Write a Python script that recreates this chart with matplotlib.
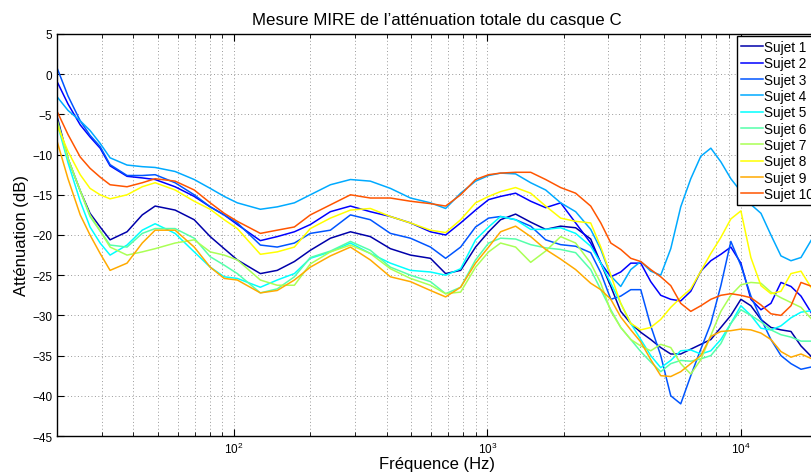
import numpy as np
from matplotlib import pyplot as plt
from matplotlib.ticker import LogLocator

# Frequency grid (Hz) and attenuation per subject (dB)
freqs = [20, 22.1, 24.7, 27, 29.6, 32.4, 37.8, 43.4, 48.8, 58.5, 69.6, 80.5, 91.4, 103,
         127, 148, 173, 200, 240, 288, 345, 414, 497, 596, 684, 784, 898, 1011, 1127,
         1292, 1482, 1698, 1946, 2230, 2557, 2803, 3070, 3360, 3681, 4030, 4413, 4833,
         5294, 5796, 6350, 6957, 7620, 8347, 9141, 10014, 10966, 12016, 13157, 14414,
         15786, 17292, 19100]

sujet1 = [-5.2, -10.5, -14.5, -17.3, -19.0, -20.6, -19.6, -17.5, -16.4, -16.9, -18.1, -20.2,
          -21.7, -23.1, -24.8, -24.4, -23.3, -21.9, -20.4, -19.6, -20.2, -21.7, -22.5, -22.9,
          -24.8, -24.4, -21.5, -19.6, -18.1, -17.4, -18.4, -19.3, -18.9, -19.1, -20.5, -23.5,
          -26.4, -29.5, -31.0, -32.1, -33.0, -34.0, -34.8, -34.8, -34.2, -33.6, -33.0, -31.5,
          -30.0, -28.0, -28.8, -30.5, -31.5, -31.8, -32.0, -33.8, -35.2]
sujet2 = [-0.9, -3.7, -6.3, -7.8, -9.2, -11.4, -12.7, -12.9, -13.1, -14.0, -15.2, -16.5,
          -17.5, -18.7, -20.7, -20.2, -19.6, -18.7, -17.1, -16.4, -17.1, -17.7, -18.5, -19.6,
          -20.0, -18.5, -16.9, -15.6, -15.2, -14.8, -15.8, -16.6, -16.0, -18.5, -21.0, -23.5,
          -25.2, -24.6, -23.5, -23.5, -25.8, -27.5, -28.0, -28.2, -27.0, -24.5, -23.2, -22.4,
          -21.5, -23.5, -28.0, -29.3, -28.5, -25.9, -26.4, -27.6, -29.8]
sujet3 = [0.8, -2.7, -5.8, -7.6, -9.0, -11.25, -12.6, -12.6, -12.5, -13.5, -15.0, -16.5,
          -17.5, -18.5, -21.25, -21.5, -21.0, -19.8, -19.4, -17.5, -18.1, -19.8, -20.4, -21.5,
          -22.9, -21.5, -19.0, -17.9, -17.7, -18.1, -18.9, -20.6, -21.2, -21.4, -22.2, -24.7,
          -28.0, -27.6, -26.8, -26.8, -31.3, -35.0, -40.0, -41.0, -37.5, -34.2, -31.0, -26.3,
          -20.8, -23.8, -27.6, -30.4, -33.0, -35.0, -36.0, -36.7, -36.4]
sujet4 = [-2.8, -4.5, -5.8, -7.0, -8.6, -10.4, -11.3, -11.5, -11.6, -12.1, -13.1, -14.2,
          -15.2, -16.0, -16.8, -16.5, -16.0, -15.0, -13.75, -13.1, -13.3, -14.2, -15.4, -16.0,
          -16.7, -14.8, -13.3, -12.6, -12.3, -12.4, -13.5, -14.4, -16.0, -17.1, -19.3, -21.8,
          -25.1, -26.4, -24.3, -23.3, -24.5, -25.0, -21.7, -16.5, -13.0, -10.2, -9.2, -10.9,
          -13.0, -14.6, -16.2, -17.3, -20.0, -22.6, -23.2, -22.8, -20.5]
sujet5 = [-6.0, -11.0, -15.8, -19.0, -21.0, -22.5, -21.25, -19.4, -18.6, -19.8, -22.1, -24.0,
          -25.2, -25.4, -26.5, -25.6, -24.8, -22.9, -22.1, -21.0, -22.3, -23.5, -24.4, -24.6,
          -25.0, -24.2, -20.6, -19.0, -17.7, -18.1, -19.3, -19.3, -19.1, -19.8, -21.4, -23.5,
          -26.0, -28.5, -31.0, -33.0, -35.0, -36.5, -35.6, -34.4, -34.3, -34.8, -34.4, -33.0,
          -31.0, -28.8, -30.0, -31.6, -31.8, -31.3, -30.3, -29.6, -29.4]
sujet6 = [-5.8, -10.5, -14.5, -17.7, -19.5, -21.25, -21.5, -19.8, -19.2, -19.2, -20.4, -22.7,
          -23.75, -24.8, -27.2, -26.7, -25.2, -22.8, -22.0, -20.8, -21.9, -24.0, -25.0, -25.8,
          -27.3, -26.5, -23.1, -21.0, -20.4, -20.5, -21.2, -21.6, -21.8, -22.2, -24.3, -26.8,
          -29.3, -31.5, -33.0, -34.5, -35.8, -37.0, -36.0, -35.6, -35.7, -35.4, -35.0, -33.5,
          -31.0, -29.3, -30.0, -30.8, -31.8, -32.4, -32.7, -33.2, -33.2]
sujet7 = [-5.6, -10.5, -14.5, -17.5, -19.5, -21.5, -22.5, -22.1, -21.7, -21.0, -20.6, -22.1,
          -22.5, -23.1, -25.6, -26.25, -26.25, -23.6, -22.1, -21.25, -22.3, -24.2, -25.4, -26.25,
          -27.3, -27.1, -24.0, -22.1, -21.0, -21.5, -23.4, -22.0, -20.2, -21.0, -23.5, -26.0,
          -29.5, -31.5, -33.0, -33.8, -34.4, -33.6, -34.0, -36.0, -37.3, -35.5, -32.5, -29.5,
          -27.5, -26.2, -25.9, -26.0, -27.1, -27.8, -28.4, -29.0, -30.5]
sujet8 = [-6.3, -9.6, -12.5, -14.2, -15.0, -15.5, -15.0, -14.0, -13.5, -14.4, -15.8, -16.8,
          -18.1, -19.2, -22.4, -22.1, -21.5, -19.2, -17.9, -16.9, -16.7, -17.7, -18.5, -19.4,
          -19.7, -18.1, -16.0, -15.2, -14.6, -14.1, -14.8, -16.4, -17.9, -18.3, -18.5, -21.5,
          -25.0, -28.5, -31.0, -31.8, -31.5, -30.5, -29.0, -27.8, -26.7, -24.5, -22.3, -20.3,
          -18.0, -17.0, -22.8, -26.3, -27.3, -27.0, -24.8, -24.5, -26.7]
sujet9 = [-8.3, -13.0, -17.5, -20.0, -22.3, -24.4, -23.5, -21.0, -19.4, -19.4, -21.5, -24.0,
          -25.4, -25.6, -27.2, -26.9, -25.6, -24.0, -22.6, -21.5, -23.1, -25.2, -25.8, -26.9,
          -27.7, -26.5, -23.5, -21.5, -19.6, -18.9, -20.2, -21.8, -23.0, -24.3, -26.0, -26.8,
          -28.0, -30.2, -31.8, -33.3, -35.5, -37.5, -37.6, -37.0, -36.0, -35.0, -32.6, -32.0,
          -31.9, -31.7, -31.8, -32.2, -33.0, -34.5, -35.2, -34.8, -35.4]
sujet10 = [-4.6, -7.5, -10.3, -11.7, -12.8, -13.75, -14.0, -13.5, -13.0, -13.3, -14.4, -16.0,
           -17.3, -18.3, -19.8, -19.4, -19.0, -17.5, -16.25, -15.0, -15.4, -15.4, -15.8, -16.1,
           -16.4, -15.0, -13.1, -12.5, -12.3, -12.2, -12.2, -13.1, -14.1, -14.8, -16.4, -18.5,
           -21.0, -21.8, -22.9, -23.3, -24.3, -25.2, -26.3, -28.5, -29.5, -28.8, -28.0, -27.5,
           -27.3, -27.5, -27.8, -28.7, -29.8, -30.0, -28.8, -25.9, -26.4]

subjects = [sujet1, sujet2, sujet3, sujet4, sujet5, sujet6, sujet7, sujet8, sujet9, sujet10]
labels = [f"Sujet {i}" for i in range(1, 11)]

# first ten entries of a 12-step jet colormap
jet12 = [(0, 0, 0.667), (0, 0, 1), (0, 0.333, 1), (0, 0.667, 1), (0, 1, 1),
         (0.333, 1, 0.667), (0.667, 1, 0.333), (1, 1, 0), (1, 0.667, 0), (1, 0.333, 0)]

plt.rcParams.update({
    "font.family": ["Liberation Sans", "DejaVu Sans"],
    "font.size": 10,
    "axes.linewidth": 1.0,
    "xtick.direction": "in",
    "ytick.direction": "in",
    "xtick.top": True,
    "ytick.right": True,
    "xtick.labelsize": 8.5,
    "ytick.labelsize": 8.5,
})

W, H = 811, 477
fig = plt.figure(figsize=(W / 100, H / 100), dpi=100)
# axes box runs a little past the right border of the image
ax = fig.add_axes([57 / W, 1 - 437 / H, (817 - 57) / W, (437 - 35) / H])

for vals, lab, col in zip(subjects, labels, jet12):
    ax.semilogx(freqs, vals, color=col, linewidth=1.1, label=lab)

ax.set_xlim(20, 20000)
ax.set_ylim(-45, 5)
ax.set_yticks(np.arange(-45, 6, 5))
ax.xaxis.set_major_locator(LogLocator(base=10))
ax.xaxis.set_minor_locator(LogLocator(base=10, subs=np.arange(2, 10)))
ax.tick_params(which="major", length=5, width=0.8)
ax.tick_params(which="minor", length=3, width=0.6)
ax.grid(True, which="both", linestyle=(0, (1, 2.5)), color="#9a9a9a", linewidth=0.7)

ax.set_title("Mesure MIRE de l\u2019atténuation totale du casque C", fontsize=12.2, pad=7.5)
ax.set_xlabel("Fréquence (Hz)", fontsize=12, labelpad=0)
ax.set_ylabel("Atténuation (dB)", fontsize=12, labelpad=2)

leg = fig.legend(loc="upper left", bbox_to_anchor=(737 / W, 1 - 37 / H), borderaxespad=0,
                 fontsize=9.8, fancybox=False, framealpha=1, edgecolor="black",
                 handlelength=1.6, handletextpad=0.1, labelspacing=0.17, borderpad=0.3)
leg.get_frame().set_linewidth(1.0)

fig.savefig("out.png", dpi=100)
